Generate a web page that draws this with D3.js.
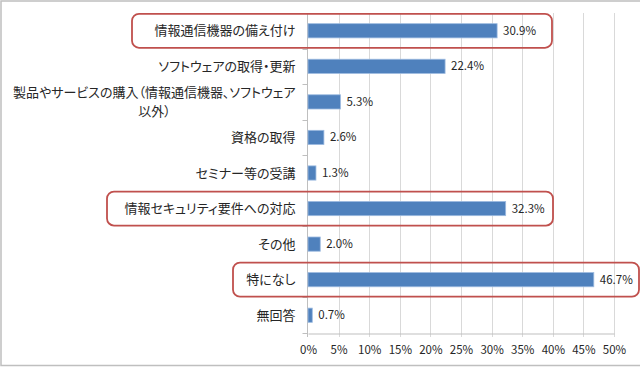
<!DOCTYPE html>
<html>
<head>
<meta charset="utf-8">
<script src="https://cdn.jsdelivr.net/npm/d3@7"></script>
<style>
  body { margin: 0; background: #fff; }
  svg text { font-family: "Noto Sans CJK JP", "Noto Sans", sans-serif; fill: #262626; }
  svg text.cat { font-feature-settings: "palt"; }
</style>
</head>
<body>
<svg id="chart"></svg>
<script>
// data
var categories = [
  "情報通信機器の備え付け",
  "ソフトウェアの取得・更新",
  "製品やサービスの購入（情報通信機器、ソフトウェア\n以外）",
  "資格の取得",
  "セミナー等の受講",
  "情報セキュリティ要件への対応",
  "その他",
  "特になし",
  "無回答"
];
var values = [30.9, 22.4, 5.3, 2.6, 1.3, 32.3, 2.0, 46.7, 0.7];
var ticks = [0, 5, 10, 15, 20, 25, 30, 35, 40, 45, 50];
var highlighted = ["情報通信機器の備え付け", "情報セキュリティ要件への対応", "特になし"];

// annotation box extents (hand drawn in the original)
var boxLeft = [132, 107, 233];
var boxRight = [552, 553, 639];

var dimensions = {
  width: 640,
  height: 367,
  plot: { left: 308, right: 614, top: 13, bottom: 333 }
};

var svg = d3.select("#chart")
  .attr("width", dimensions.width)
  .attr("height", dimensions.height);

// outer frame
svg.append("rect")
  .attr("x", 1).attr("y", 1)
  .attr("width", dimensions.width)
  .attr("height", dimensions.height - 2.5)
  .attr("fill", "none")
  .attr("stroke", "#bfbfbf")
  .attr("stroke-width", 1.5);

var xScale = d3.scaleLinear()
  .domain([0, 50])
  .range([dimensions.plot.left, dimensions.plot.right]);

var yScale = d3.scaleBand()
  .domain(categories)
  .range([dimensions.plot.top, dimensions.plot.bottom])
  .paddingInner(0.6)
  .paddingOuter(0.3);

var step = yScale.step();

// vertical grid lines
svg.append("g")
  .selectAll("line")
  .data(ticks.slice(1))
  .enter()
  .append("line")
  .attr("x1", d => Math.round(xScale(d)) + 0.5)
  .attr("x2", d => Math.round(xScale(d)) + 0.5)
  .attr("y1", dimensions.plot.top)
  .attr("y2", dimensions.plot.bottom + 4)
  .attr("stroke", "#d9d9d9");

// x axis
var xAxis = d3.axisBottom(xScale)
  .tickValues(ticks)
  .tickSize(0)
  .tickPadding(12)
  .tickFormat(d => d + "%");
var gx = svg.append("g")
  .attr("transform", `translate(0, ${dimensions.plot.bottom + 0.5})`)
  .call(xAxis);
gx.select(".domain").attr("stroke", "#bfbfbf");
gx.selectAll("text")
  .style("font-size", "11.5px")
  .attr("fill", "#262626");

// y axis line and category boundary ticks
var yLine = Math.round(xScale(0)) - 0.5;
svg.append("line")
  .attr("x1", yLine).attr("x2", yLine)
  .attr("y1", dimensions.plot.top)
  .attr("y2", dimensions.plot.bottom + 4)
  .attr("stroke", "#bfbfbf");
svg.append("g")
  .selectAll("line")
  .data(d3.range(categories.length + 1))
  .enter()
  .append("line")
  .attr("x1", yLine - 5).attr("x2", yLine)
  .attr("y1", i => Math.round(dimensions.plot.top + i * step) + 0.5)
  .attr("y2", i => Math.round(dimensions.plot.top + i * step) + 0.5)
  .attr("stroke", "#bfbfbf");

// bars
svg.selectAll(".bar")
  .data(values)
  .enter()
  .append("rect")
  .attr("class", "bar")
  .attr("x", xScale(0))
  .attr("y", (d, i) => yScale(categories[i]))
  .attr("width", d => xScale(d) - xScale(0))
  .attr("height", yScale.bandwidth())
  .attr("fill", "#4f81bd")
  .attr("stroke", "#9dbbe0")
  .attr("stroke-width", 0.8);

// value labels
svg.selectAll(".value")
  .data(values)
  .enter()
  .append("text")
  .attr("class", "value")
  .attr("x", d => xScale(d) + 6)
  .attr("y", (d, i) => yScale(categories[i]) + yScale.bandwidth() / 2)
  .attr("dy", "0.35em")
  .style("font-size", "11.5px")
  .text(d => d.toFixed(1) + "%");

// category labels (multi-line ones are centred as a block, right aligned)
categories.forEach(function(c) {
  var lines = c.split("\n");
  var cy = yScale(c) + yScale.bandwidth() / 2;
  var g = svg.append("g");
  if (lines.length === 1) {
    g.append("text")
      .attr("class", "cat")
      .attr("x", yLine - 12)
      .attr("y", cy)
      .attr("dy", "0.35em")
      .attr("text-anchor", "end")
      .style("font-size", "13px")
      .text(c);
  } else {
    var first = g.append("text")
      .attr("class", "cat")
      .attr("x", yLine - 12)
      .attr("y", cy - 9.5)
      .attr("dy", "0.35em")
      .attr("text-anchor", "end")
      .style("font-size", "13px")
      .text(lines[0]);
    var bb = first.node().getBBox();
    g.append("text")
      .attr("class", "cat")
      .attr("x", bb.x + bb.width / 2)
      .attr("y", cy + 9.5)
      .attr("dy", "0.35em")
      .attr("text-anchor", "middle")
      .style("font-size", "13px")
      .text(lines[1]);
  }
});

// highlight boxes
svg.selectAll(".box")
  .data(highlighted)
  .enter()
  .append("rect")
  .attr("class", "box")
  .attr("x", (d, i) => boxLeft[i])
  .attr("y", d => yScale(d) + yScale.bandwidth() / 2 - 17)
  .attr("width", (d, i) => boxRight[i] - boxLeft[i])
  .attr("height", 34)
  .attr("rx", 7)
  .attr("fill", "none")
  .attr("stroke", "#c0504d")
  .attr("stroke-width", 1.8);
</script>
</body>
</html>
